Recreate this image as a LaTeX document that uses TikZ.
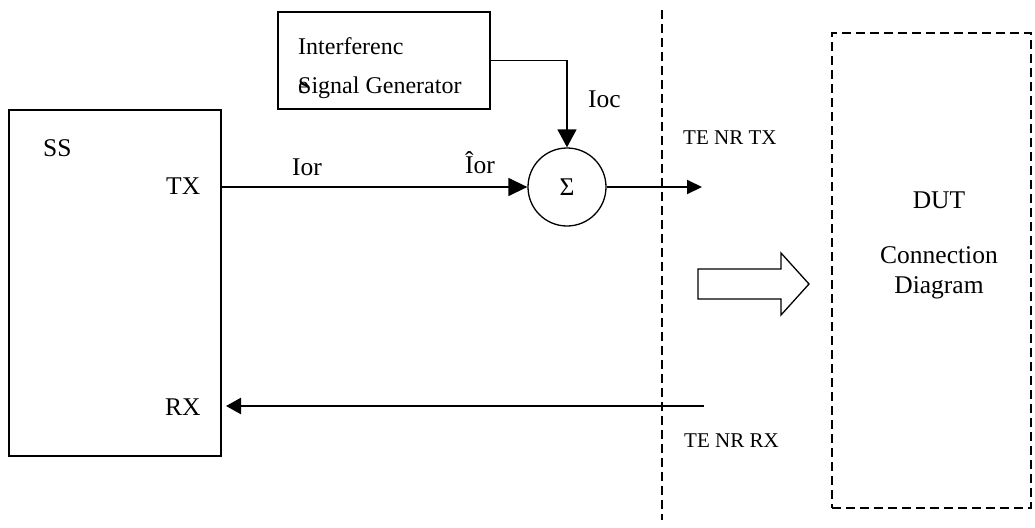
\documentclass[tikz,border=0pt]{standalone}
\usepackage{fontspec}
\setmainfont{Liberation Serif}
\usetikzlibrary{arrows.meta}
\begin{document}
\begin{tikzpicture}[x=1pt,y=-1pt,
  box/.style={draw,line width=1.3pt,rectangle,inner sep=0pt},
  lbl/.style={anchor=base west,inner sep=0pt,font=\fontsize{25.5}{30}\selectfont},
  sml/.style={anchor=base west,inner sep=0pt,font=\fontsize{21}{25}\selectfont},
  ctr/.style={anchor=base,inner sep=0pt,font=\fontsize{25.5}{30}\selectfont},
  conn/.style={line width=1.4pt},
  dsh/.style={line width=1.4pt,dash pattern=on 9pt off 5pt}]
\useasboundingbox (0,0) rectangle (1035,527);
% boxes
\node[box,minimum width=212pt,minimum height=346pt] (ss) at (115,283) {};
\node[box,minimum width=212pt,minimum height=97pt] (isg) at (384,60.5) {};
\node[draw,circle,line width=1.3pt,minimum size=78pt,inner sep=0pt,font=\fontsize{25.5}{30}\selectfont] (sum) at (567,187) {Σ};
\node[draw,rectangle,dsh,minimum width=199pt,minimum height=475pt,inner sep=0pt] (dut) at (931.5,270.5) {};
% texts
\node[anchor=base west,inner sep=0pt,font=\fontsize{24}{28}\selectfont] (t1) at (298,55) {Interferenc};
\node[anchor=base west,inner sep=0pt,font=\fontsize{24}{28}\selectfont] (t2) at (298,93) {\rlap{e}Signal Generator};
\node[lbl] (tss) at (43,156) {SS};
\node[lbl] (ttx) at (166,194) {TX};
\node[lbl] (trx) at (165,415) {RX};
\node[lbl] (tior) at (292,175) {Ior};
\node[lbl] (tiorh) at (465,173) {Îor};
\node[lbl] (tioc) at (588,107) {Ioc};
\node[sml] (tentx) at (683,144) {TE NR TX};
\node[sml] (tenrx) at (684,447) {TE NR RX};
\node[ctr] (tdut) at (939,208) {DUT};
\node[ctr] (tcon) at (939,263) {Connection};
\node[ctr] (tdia) at (939,293) {Diagram};
% coordinates
\coordinate (tx) at (221,187);
\coordinate (txend) at (702,187);
\coordinate (rxstart) at (704,406);
\coordinate (rxend) at (221,406);
\coordinate (dtop) at (662,10);
\coordinate (dbot) at (662,520);
% connectors
\draw[conn,-{Triangle[length=19pt,width=18pt]}] (tx) -- (sum.west);
\draw[conn,-{Triangle[length=18pt,width=19pt]}] (isg.east) -| (sum.north);
\draw[line width=2pt,-{Triangle[length=15pt,width=14pt]}] (sum.east) -- (txend);
\draw[line width=2.4pt,-{Triangle[length=15pt,width=16pt]},shorten >=5pt] (rxstart) -- (rxend);
\draw[dsh] (dtop) -- (dbot);
% block arrow
\draw[line width=1.3pt] (698,269) -- (781,269) -- (781,253) -- (809,284) -- (781,315) -- (781,299) -- (698,299) -- cycle;
\end{tikzpicture}
\end{document}
